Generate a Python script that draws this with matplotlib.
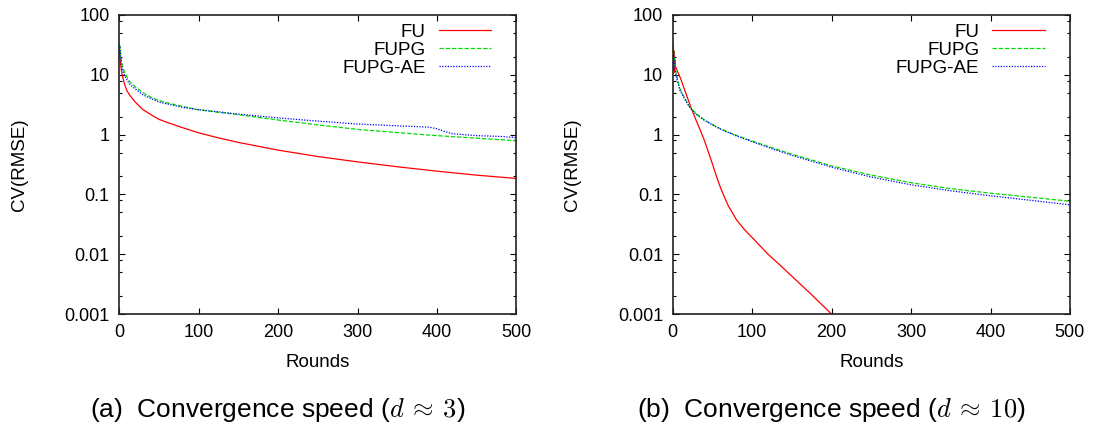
import matplotlib
matplotlib.use("Agg")
import matplotlib.pyplot as plt
from matplotlib.ticker import LogLocator, NullFormatter, FixedLocator

plt.rcParams['font.family'] = ['Liberation Sans', 'DejaVu Sans']
plt.rcParams['mathtext.fontset'] = 'cm'

# (a) d ~ 3
fu_a_x = [0, 1, 2, 3, 4, 6, 8, 10, 13, 20, 30, 40, 50, 60, 80, 100, 125, 150, 200, 250, 300, 350, 400, 450, 500]
fu_a_y = [26, 20, 14, 11, 9.5, 7.5, 6.2, 5.3, 4.6, 3.5, 2.6, 2.15, 1.8, 1.6, 1.3, 1.07, 0.88, 0.74, 0.55, 0.43, 0.35, 0.29, 0.245, 0.21, 0.185]
fupg_a_x = [0, 1, 2, 3, 5, 7, 10, 13, 20, 30, 40, 50, 60, 80, 100, 125, 150, 200, 250, 300, 350, 400, 450, 500]
fupg_a_y = [32, 30, 20, 16, 12.5, 10.8, 9, 7.7, 6.3, 5.0, 4.2, 3.7, 3.4, 2.95, 2.6, 2.35, 2.15, 1.75, 1.45, 1.22, 1.08, 0.96, 0.87, 0.79]
ae_a_x = [0, 1, 2, 3, 5, 7, 10, 13, 20, 30, 40, 50, 60, 80, 100, 125, 150, 200, 250, 300, 350, 390, 400, 410, 420, 450, 480, 495, 500]
ae_a_y = [32, 29, 18, 14, 11, 9.5, 8, 7, 5.8, 4.6, 4.0, 3.5, 3.25, 2.85, 2.6, 2.4, 2.2, 1.9, 1.68, 1.5, 1.4, 1.33, 1.25, 1.12, 1.03, 0.96, 0.93, 0.9, 0.88]

# (b) d ~ 10
fu_b_x = [0, 1, 1.5, 2, 2.5, 3, 10, 20, 24, 30, 35, 40, 45, 50, 55, 60, 65, 70, 80, 90, 100, 110, 120, 135, 150, 175, 200]
fu_b_y = [30, 12, 25, 11, 18, 14, 8.5, 3.6, 2.6, 1.65, 1.15, 0.78, 0.5, 0.32, 0.2, 0.13, 0.09, 0.064, 0.038, 0.026, 0.019, 0.0138, 0.010, 0.0066, 0.0043, 0.0021, 0.001]
fupg_b_x = [0, 1, 2, 3, 5, 9, 15, 22, 30, 40, 50, 60, 80, 100, 125, 150, 200, 250, 300, 350, 400, 450, 500]
fupg_b_y = [32, 25, 17, 13.5, 9.5, 5.8, 4.0, 2.8, 2.2, 1.75, 1.47, 1.25, 0.97, 0.78, 0.6, 0.47, 0.3, 0.21, 0.157, 0.125, 0.105, 0.09, 0.077]
ae_b_x = [0, 1, 2, 3, 5, 9, 15, 22, 30, 40, 50, 60, 80, 100, 125, 150, 200, 250, 300, 350, 400, 450, 500]
ae_b_y = [33, 22, 15, 12, 8.5, 5.5, 3.9, 2.75, 2.15, 1.72, 1.45, 1.23, 0.95, 0.76, 0.58, 0.45, 0.285, 0.195, 0.145, 0.115, 0.095, 0.08, 0.067]

captions = [r"(a)  Convergence speed ($d\:\approx\:3$)", r"(b)  Convergence speed ($d\:\approx\:10$)"]
x_ticks = [0, 100, 200, 300, 400, 500]
y_ticks = [0.001, 0.01, 0.1, 1, 10, 100]
y_ticklabels = ["0.001", "0.01", "0.1", "1", "10", "100"]

fig = plt.figure(figsize=(10.94, 4.24), dpi=100)
ax_a = fig.add_axes([0.109, 0.259, 0.363, 0.706])
ax_b = fig.add_axes([0.615, 0.259, 0.363, 0.706])

panels = [
    (ax_a, fu_a_x, fu_a_y, fupg_a_x, fupg_a_y, ae_a_x, ae_a_y),
    (ax_b, fu_b_x, fu_b_y, fupg_b_x, fupg_b_y, ae_b_x, ae_b_y),
]

for ax, fx, fy, gx, gy, bx, by in panels:
    ax.plot(fx, fy, color='#ff0000', lw=0.9, label='FU')
    ax.plot(gx, gy, color='#00dd00', lw=0.9, dashes=(3.5, 1.5), label='FUPG')
    ax.plot(bx, by, color='#0000ff', lw=0.9, dashes=(1, 1.2), label='FUPG-AE')
    ax.set_yscale('log')
    ax.set_xlim(0, 500)
    ax.set_ylim(0.001, 100)
    ax.xaxis.set_major_locator(FixedLocator(x_ticks))
    ax.set_yticks(y_ticks)
    ax.set_yticklabels(y_ticklabels)
    ax.yaxis.set_minor_locator(LogLocator(base=10, subs=[2, 5, 8]))
    ax.yaxis.set_minor_formatter(NullFormatter())
    ax.tick_params(which='both', direction='in', top=True, right=True, labelsize=13, width=0.8)
    ax.tick_params(which='major', length=4, pad=7)
    ax.tick_params(which='minor', length=2)
    for s in ax.spines.values():
        s.set_linewidth(1.2)
        s.set_color('#222222')
    ax.set_xlabel('Rounds', fontsize=13.5, va='center')
    ax.xaxis.set_label_coords(0.5, -0.16)
    ax.set_ylabel('CV(RMSE)', fontsize=13.5, va='center')
    ax.yaxis.set_label_coords(-0.252, 0.5)
    ax.legend(loc='upper right', frameon=False, markerfirst=False, fontsize=13.5,
              handlelength=2.8, handletextpad=0.7, labelspacing=0.05,
              borderaxespad=0.3, bbox_to_anchor=(0.97, 1.015))

fig.text(278 / 1094, 1 - 410 / 424, captions[0], ha='center', va='center', fontsize=19)
fig.text(831 / 1094, 1 - 410 / 424, captions[1], ha='center', va='center', fontsize=19)

fig.savefig('out.png', dpi=100)
